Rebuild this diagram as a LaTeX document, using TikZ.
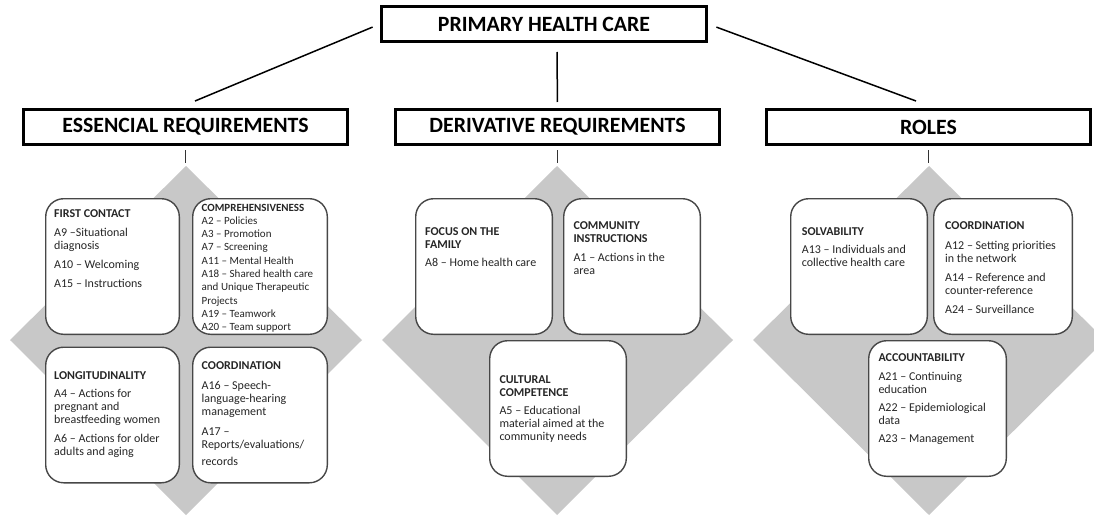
\documentclass[tikz,border=0pt]{standalone}
\usepackage{fontspec}
\setmainfont{Carlito}
\definecolor{diamondgray}{HTML}{C8C8C8}
\definecolor{cardline}{HTML}{474747}
\definecolor{cardtext}{HTML}{262626}
\begin{document}
\begin{tikzpicture}[x=1pt,y=-1pt,
  head/.style={draw=black, line width=3pt, fill=white, minimum width=324pt,
    minimum height=35pt, inner sep=0pt, font=\fontsize{21.8}{25}\selectfont\bfseries},
  card/.style={draw=cardline, line width=1.4pt, fill=white, rounded corners=18pt, inner sep=0pt},
  txt/.style={anchor=base west, inner sep=0pt, text=cardtext, font=\fontsize{12}{13}\selectfont},
  txtsmall/.style={txt, font=\fontsize{11}{13.3}\selectfont},
  link/.style={draw=black, line width=1.5pt},
  stub/.style={draw=black!80, line width=1.5pt},
  rhomb/.style={fill=diamondgray}]
\useasboundingbox (0,0) rectangle (1094,516);
\clip (0,0) rectangle (1094,516);

% ---------- headings ----------
\node[head, minimum width=325pt] (phc) at (544,24) {PRIMARY HEALTH CARE};
\node[head] (ess)   at (185.5,127) {ESSENCIAL REQUIREMENTS};
\node[head] (der)   at (557.5,127) {DERIVATIVE REQUIREMENTS};
\node[head] (roles) at (928.5,127) {ROLES};

% connectors from the root
\coordinate (ess-in)   at (195,101);
\coordinate (roles-in) at (916,101);
\coordinate (phc-stub) at (557,52);
\draw[link, shorten <=8pt] (phc.west) -- (ess-in);
\draw[link, shorten <=9pt] (phc.east) -- (roles-in);
\draw[link, shorten >=6pt] (phc-stub) -- (der.north);

% short stubs under the headings
\coordinate (ess-tick)   at (185.5,163);
\coordinate (der-tick)   at (557.5,163);
\coordinate (roles-tick) at (928.5,163);
\draw[stub, shorten <=4pt] (ess.south) -- (ess-tick);
\draw[stub, shorten <=4pt] (der.south) -- (der-tick);
\draw[stub, shorten <=4pt] (roles.south) -- (roles-tick);

% ---------- grey diamonds ----------
\fill[rhomb] (186,166) -- (362,340) -- (186,515) -- (10,340) -- cycle;
\fill[rhomb] (557,166) -- (733,340) -- (557,515) -- (382,340) -- cycle;
\fill[rhomb] (929,166) -- (1105,340) -- (929,515) -- (753,340) -- cycle;

% ---------- essential requirements ----------
\node[card, minimum width=133.6pt, minimum height=135.6pt] (fc)   at (112.5,266.5) {};
\node[card, minimum width=134.6pt, minimum height=135.6pt] (comp) at (260,266.5) {};
\node[card, minimum width=133.6pt, minimum height=135.6pt] (long) at (112.5,415) {};
\node[card, minimum width=134.6pt, minimum height=135.6pt] (coo1) at (260,415) {};

\node[txt] (fc-t) at (54,217) {\parbox[t]{150pt}{\raggedright
  \textbf{FIRST CONTACT}\\[6pt]
  A9 –Situational\\ diagnosis\\[6pt]
  A10 – Welcoming\\[6pt]
  A15 – Instructions}};
\node[txtsmall] (comp-t) at (201.5,211) {\parbox[t]{150pt}{\raggedright
  \textbf{COMPREHENSIVENESS}\\
  A2 – Policies\\ A3 – Promotion\\ A7 – Screening\\ A11 – Mental Health\\
  A18 – Shared health care\\ and Unique Therapeutic\\ Projects\\
  A19 – Teamwork\\ A20 – Team support}};
\node[txt] (long-t) at (54,379) {\parbox[t]{150pt}{\raggedright
  \textbf{LONGITUDINALITY}\\[5pt]
  A4 – Actions for\\ pregnant and\\ breastfeeding women\\[6pt]
  A6 – Actions for older\\ adults and aging}};
\node[txt] (coo1-t) at (201.5,369) {\parbox[t]{150pt}{\raggedright
  \textbf{COORDINATION}\\[7pt]
  A16 – Speech-\\ language-hearing\\ management\\[7pt]
  A17 –\\ Reports/evaluations/\\[4pt] records}};

% ---------- derivative requirements ----------
\node[card, minimum width=136.6pt, minimum height=135.6pt] (fam)  at (484,266.5) {};
\node[card, minimum width=136.6pt, minimum height=135.6pt] (comm) at (632,266.5) {};
\node[card, minimum width=136.6pt, minimum height=135.6pt] (cult) at (558,408.5) {};

\node[txt] (fam-t) at (425,235.7) {\parbox[t]{150pt}{\raggedright
  \textbf{FOCUS ON THE}\\ \textbf{FAMILY}\\[5pt]
  A8 – Home health care}};
\node[txt] (comm-t) at (573.3,229) {\parbox[t]{150pt}{\raggedright
  \textbf{COMMUNITY}\\ \textbf{INSTRUCTIONS}\\[6pt]
  A1 – Actions in the\\ area}};
\node[txt] (cult-t) at (499.3,383.3) {\parbox[t]{150pt}{\raggedright
  \textbf{CULTURAL}\\ \textbf{COMPETENCE}\\[5pt]
  A5 – Educational\\ material aimed at the\\ community needs}};

% ---------- roles ----------
\node[card, minimum width=136.6pt, minimum height=135.6pt] (solv) at (859,266.5) {};
\node[card, minimum width=138.6pt, minimum height=135.6pt] (coo2) at (1003,266.5) {};
\node[card, minimum width=137.6pt, minimum height=135.6pt] (acc)  at (937.5,408.5) {};

\node[txt] (solv-t) at (801.7,235.7) {\parbox[t]{150pt}{\raggedright
  \textbf{SOLVABILITY}\\[5pt]
  A13 – Individuals and\\ collective health care}};
\node[txt] (coo2-t) at (945,229) {\parbox[t]{150pt}{\raggedright
  \textbf{COORDINATION}\\[7pt]
  A12 – Setting priorities\\ in the network\\[6pt]
  A14 – Reference and\\ counter-reference\\[6pt]
  A24 – Surveillance}};
\node[txt] (acc-t) at (878.3,361.3) {\parbox[t]{150pt}{\raggedright
  \textbf{ACCOUNTABILITY}\\[6pt]
  A21 – Continuing\\ education\\[5pt]
  A22 – Epidemiological\\ data\\[5pt]
  A23 – Management}};
\end{tikzpicture}
\end{document}
